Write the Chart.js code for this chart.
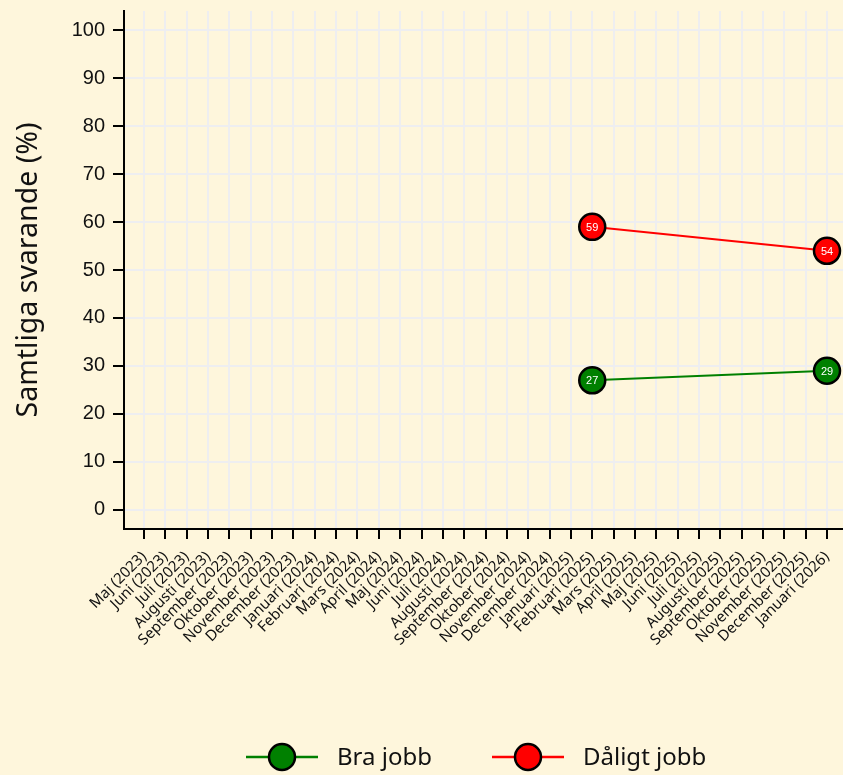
<!DOCTYPE html>
<html>
<head>
<meta charset="utf-8">
<script src="https://cdn.jsdelivr.net/npm/chart.js@4/dist/chart.umd.min.js"></script>
<style>
  html, body { margin: 0; padding: 0; background: #fef6dc; }
  #wrap { width: 843px; height: 775px; position: relative; }
</style>
</head>
<body>
<div id="wrap"><canvas id="c" width="843" height="775"></canvas></div>
<script>
// ---- data ----
const categories = [
  "Maj (2023)", "Juni (2023)", "Juli (2023)", "Augusti (2023)", "September (2023)",
  "Oktober (2023)", "November (2023)", "December (2023)", "Januari (2024)", "Februari (2024)",
  "Mars (2024)", "April (2024)", "Maj (2024)", "Juni (2024)", "Juli (2024)",
  "Augusti (2024)", "September (2024)", "Oktober (2024)", "November (2024)", "December (2024)",
  "Januari (2025)", "Februari (2025)", "Mars (2025)", "April (2025)", "Maj (2025)",
  "Juni (2025)", "Juli (2025)", "Augusti (2025)", "September (2025)", "Oktober (2025)",
  "November (2025)", "December (2025)", "Januari (2026)"
];
const seriesNames = ["Bra jobb", "Dåligt jobb"];
const braJobb = [null,null,null,null,null,null,null,null,null,null,null,null,null,null,null,null,null,null,null,null,null,27,null,null,null,null,null,null,null,null,null,null,29];
const daligtJobb = [null,null,null,null,null,null,null,null,null,null,null,null,null,null,null,null,null,null,null,null,null,59,null,null,null,null,null,null,null,null,null,null,54];
const yTicks = [0, 10, 20, 30, 40, 50, 60, 70, 80, 90, 100];
const yTitle = "Samtliga svarande (%)";

const toPoints = arr => arr.map((v, i) => ({x: i, y: v}));

const BG = '#fef6dc';
const GRID = '#eeeef0';

const bgPlugin = {
  id: 'bg',
  beforeDraw(chart) {
    const ctx = chart.ctx;
    ctx.save();
    ctx.fillStyle = BG;
    ctx.fillRect(0, 0, chart.width, chart.height);
    ctx.restore();
  }
};

const labelPlugin = {
  id: 'pointLabels',
  afterDatasetsDraw(chart) {
    const ctx = chart.ctx;
    ctx.save();
    ctx.font = '11px "Liberation Sans", Arial, sans-serif';
    ctx.fillStyle = '#ffffff';
    ctx.textAlign = 'center';
    ctx.textBaseline = 'middle';
    chart.data.datasets.forEach((ds, di) => {
      const meta = chart.getDatasetMeta(di);
      meta.data.forEach((pt, i) => {
        const v = ds.data[i].y;
        if (v === null || v === undefined) return;
        ctx.fillText(String(v), pt.x, pt.y + 1);
      });
    });
    ctx.restore();
  }
};

const legendPlugin = {
  id: 'customLegend',
  afterDraw(chart) {
    const ctx = chart.ctx;
    ctx.save();
    const y = 757;
    const starts = [246, 492];
    ctx.font = '24px "Noto Sans", "Open Sans", sans-serif';
    ctx.textBaseline = 'middle';
    ctx.textAlign = 'left';
    chart.data.datasets.forEach((ds, di) => {
      const x0 = starts[di];
      ctx.strokeStyle = ds.borderColor;
      ctx.lineWidth = 2.5;
      ctx.beginPath();
      ctx.moveTo(x0, y);
      ctx.lineTo(x0 + 72, y);
      ctx.stroke();
      ctx.beginPath();
      ctx.arc(x0 + 36, y, 13, 0, Math.PI * 2);
      ctx.fillStyle = ds.pointBackgroundColor;
      ctx.fill();
      ctx.lineWidth = 2.5;
      ctx.strokeStyle = '#000';
      ctx.stroke();
      ctx.fillStyle = '#111';
      ctx.fillText(ds.label, x0 + 91, y + 1);
    });
    ctx.restore();
  }
};

new Chart(document.getElementById('c'), {
  type: 'line',
  data: {
    datasets: [
      {
        label: seriesNames[0],
        data: toPoints(braJobb),
        borderColor: '#008000',
        backgroundColor: '#008000',
        pointBackgroundColor: '#008000',
        pointBorderColor: '#000000',
        pointBorderWidth: 2.5,
        pointRadius: 13,
        pointHoverRadius: 13,
        borderWidth: 2,
        spanGaps: true,
        fill: false,
        clip: false
      },
      {
        label: seriesNames[1],
        data: toPoints(daligtJobb),
        borderColor: '#ff0000',
        backgroundColor: '#ff0000',
        pointBackgroundColor: '#ff0000',
        pointBorderColor: '#000000',
        pointBorderWidth: 2.5,
        pointRadius: 13,
        pointHoverRadius: 13,
        borderWidth: 2,
        spanGaps: true,
        fill: false,
        clip: false
      }
    ]
  },
  options: {
    responsive: false,
    animation: false,
    devicePixelRatio: 1,
    layout: { autoPadding: false, padding: { top: 11, right: 0, left: 0, bottom: 0 } },
    plugins: {
      legend: { display: false },
      tooltip: { enabled: false },
      title: { display: false }
    },
    scales: {
      x: {
        type: 'linear',
        min: -0.94,
        max: 32.75,
        afterFit(scale) { scale.height = 246; scale.paddingLeft = 0; scale.paddingRight = 0; },
        afterBuildTicks(scale) {
          scale.ticks = categories.map((c, i) => ({ value: i }));
        },
        ticks: {
          autoSkip: false,
          maxRotation: 45,
          minRotation: 45,
          padding: 9,
          color: '#111',
          font: { family: '"Noto Sans", "Open Sans", sans-serif', size: 15 },
          callback: (v) => categories[v] ?? ''
        },
        grid: {
          color: GRID,
          lineWidth: 2,
          borderDash: [13, 9],
          drawTicks: true,
          tickLength: 10,
          tickColor: '#000',
          tickWidth: 2,
          tickBorderDash: []
        },
        border: { display: true, color: '#000', width: 2 }
      },
      y: {
        type: 'linear',
        min: -4,
        max: 104,
        afterFit(scale) { scale.width = 124; scale.paddingTop = 0; scale.paddingBottom = 0; },
        afterBuildTicks(scale) {
          scale.ticks = yTicks.map(v => ({ value: v }));
        },
        ticks: {
          color: '#111',
          padding: 8,
          font: { family: '"Liberation Sans", Arial, sans-serif', size: 20 }
        },
        grid: {
          color: GRID,
          lineWidth: 2,
          borderDash: [16, 5],
          drawTicks: true,
          tickLength: 11,
          tickColor: '#000',
          tickWidth: 2,
          tickBorderDash: []
        },
        border: { display: true, color: '#000', width: 2 },
        title: {
          display: true,
          text: yTitle,
          color: '#111',
          padding: { top: 12, bottom: 0 },
          font: { family: '"Noto Sans", "Open Sans", sans-serif', size: 28.5 }
        }
      }
    }
  },
  plugins: [bgPlugin, labelPlugin, legendPlugin]
});
</script>
</body>
</html>
